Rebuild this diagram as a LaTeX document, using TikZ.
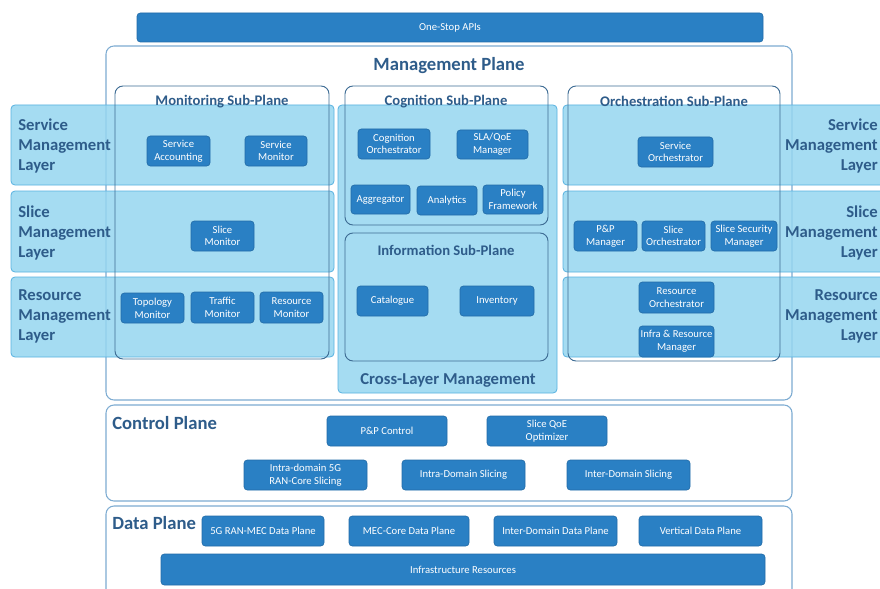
\documentclass[tikz,border=0pt]{standalone}
\usepackage{fontspec}
\setmainfont{Carlito}
\definecolor{nodeblue}{RGB}{42,128,196}
\definecolor{nodeedge}{RGB}{34,108,168}
\definecolor{bandfill}{RGB}{150,214,240}
\definecolor{bandedge}{RGB}{88,178,224}
\definecolor{subedge}{RGB}{62,108,148}
\definecolor{planeedge}{RGB}{125,172,210}
\definecolor{titleblue}{RGB}{46,92,138}
\newcommand\mkbox[6]{\node[nb, minimum width={(#4-#2)*0.75pt}, minimum height={(#5-#3)*0.75pt}] (#1) at ({(#2+#4)/2},{(#3+#5)/2}) {#6};}
\begin{document}
\begin{tikzpicture}[x=0.75pt,y=-0.75pt,
 nb/.style={rectangle, rounded corners=2.5pt, fill=nodeblue, draw=nodeedge, line width=0.5pt, text=white, font=\fontsize{8}{9.5}\selectfont, align=center, inner sep=0pt},
 band/.style={rounded corners=3pt, fill=bandfill, fill opacity=0.85, draw=bandedge, line width=0.6pt},
 subplane/.style={rounded corners=6pt, draw=subedge, line width=0.7pt},
 plane/.style={rounded corners=6pt, draw=planeedge, line width=0.8pt, fill=white},
 ttl/.style={text=titleblue, font=\fontsize{11}{13}\selectfont\bfseries, inner sep=0pt},
 bigttl/.style={text=titleblue, font=\fontsize{14}{16}\selectfont\bfseries, inner sep=0pt},
 lyr/.style={text=titleblue, font=\fontsize{12.5}{15}\selectfont\bfseries, inner sep=0pt}]
\useasboundingbox (0,0) rectangle (880,588);
\fill[white] (0,0) rectangle (880,588);

% One-stop APIs
\mkbox{api}{137}{13}{763}{42}{One-Stop APIs}

% planes
\draw[plane] (106,46) rectangle (792,400);
\draw[plane] (106,405) rectangle (792,501);
\draw[plane] (106,506) rectangle (792,600);

% layer bands
\draw[band] (11,105) rectangle (334,185);
\draw[band] (11,191) rectangle (334,272);
\draw[band] (11,277) rectangle (334,357);
\draw[band] (563,105) rectangle (890,185);
\draw[band] (563,191) rectangle (890,272);
\draw[band] (563,277) rectangle (890,357);
\draw[band] (338,105) rectangle (557,393);

% sub-planes
\draw[subplane] (115,86) rectangle (329,359);
\draw[subplane] (345,86) rectangle (548,225);
\draw[subplane] (345,233) rectangle (548,361);
\draw[subplane] (568,86) rectangle (780,361);

% titles
\node[bigttl] (mpt) at (449,66) {Management Plane};
\node[ttl] (mont) at (222,102) {Monitoring Sub-Plane};
\node[ttl] (cogt) at (446,102) {Cognition Sub-Plane};
\node[ttl] (orct) at (674,101) {Orchestration Sub-Plane};
\node[ttl] (inft) at (446,250) {Information Sub-Plane};
\node[lyr] (xlt) at (448,380) {Cross-Layer Management};
\node[bigttl, anchor=west] (cpt) at (112,423) {Control Plane};
\node[bigttl, anchor=west] (dpt) at (112,523) {Data Plane};

% layer labels
\node[lyr, anchor=west, align=left] (lsvc) at (18,146) {Service\\Management\\Layer};
\node[lyr, anchor=west, align=left] (lslc) at (18,233) {Slice\\Management\\Layer};
\node[lyr, anchor=west, align=left] (lres) at (18,316) {Resource\\Management\\Layer};
\node[lyr, anchor=east, align=right] (rsvc) at (878,146) {Service\\Management\\Layer};
\node[lyr, anchor=east, align=right] (rslc) at (878,233) {Slice\\Management\\Layer};
\node[lyr, anchor=east, align=right] (rres) at (878,316) {Resource\\Management\\Layer};

% monitoring
\mkbox{sacc}{147}{136}{210}{166}{Service\\Accounting}
\mkbox{smon}{245}{136}{307}{166}{Service\\Monitor}
\mkbox{slmon}{191}{221}{254}{251}{Slice\\Monitor}
\mkbox{tmon}{121}{293}{184}{323}{Topology\\Monitor}
\mkbox{trmon}{191}{292}{254}{323}{Traffic\\Monitor}
\mkbox{rmon}{260}{292}{323}{323}{Resource\\Monitor}

% cognition
\mkbox{corch}{358}{129}{430}{159}{Cognition\\Orchestrator}
\mkbox{sla}{457}{130}{528}{159}{SLA/QoE\\Manager}
\mkbox{agg}{351}{185}{410}{214}{Aggregator}
\mkbox{ana}{417}{186}{477}{215}{Analytics}
\mkbox{pol}{483}{185}{543}{214}{Policy\\Framework}

% information
\mkbox{cat}{357}{286}{428}{316}{Catalogue}
\mkbox{inv}{460}{286}{534}{316}{Inventory}

% orchestration
\mkbox{sorch}{638}{137}{713}{167}{Service\\Orchestrator}
\mkbox{ppm}{574}{221}{637}{251}{P\&P\\Manager}
\mkbox{slorch}{642}{221}{705}{251}{Slice\\Orchestrator}
\mkbox{ssm}{711}{221}{777}{251}{Slice Security\\Manager}
\mkbox{rorch}{639}{282}{714}{313}{Resource\\Orchestrator}
\mkbox{irm}{639}{326}{714}{357}{Infra \& Resource\\Manager}

% control plane
\mkbox{ppc}{327}{416}{447}{446}{P\&P Control}
\mkbox{sqoe}{487}{416}{607}{446}{Slice QoE\\Optimizer}
\mkbox{intra5g}{244}{460}{367}{490}{Intra-domain 5G\\RAN-Core Slicing}
\mkbox{intrads}{402}{460}{525}{490}{Intra-Domain Slicing}
\mkbox{interds}{567}{460}{690}{490}{Inter-Domain Slicing}

% data plane
\mkbox{ranmec}{202}{516}{324}{546}{5G RAN-MEC Data Plane}
\mkbox{meccore}{349}{516}{469}{546}{MEC-Core Data Plane}
\mkbox{interdp}{494}{516}{617}{546}{Inter-Domain Data Plane}
\mkbox{vertdp}{639}{516}{762}{546}{Vertical Data Plane}
\mkbox{infra}{161}{554}{765}{585}{Infrastructure Resources}
\end{tikzpicture}
\end{document}
